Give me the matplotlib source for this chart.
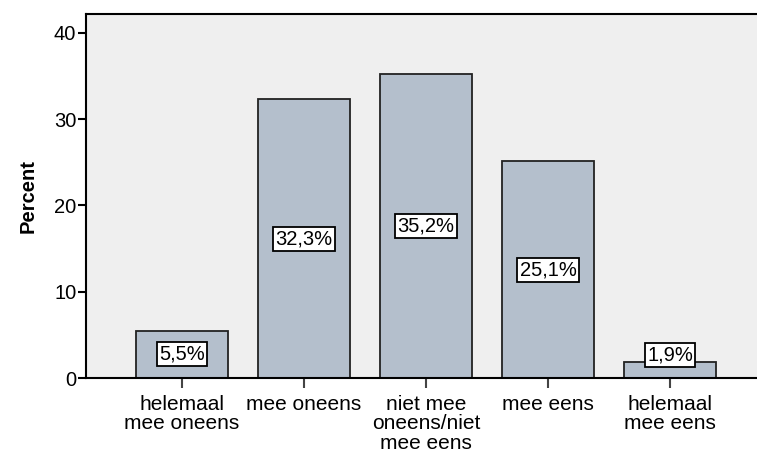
import matplotlib.pyplot as plt

plt.rcParams['font.family'] = ['Liberation Sans', 'DejaVu Sans']

# data
categories = ['helemaal\nmee oneens', 'mee oneens', 'niet mee\noneens/niet\nmee eens',
              'mee eens', 'helemaal\nmee eens']
percent = [5.5, 32.3, 35.2, 25.1, 1.9]
value_labels = ['5,5%', '32,3%', '35,2%', '25,1%', '1,9%']

fig = plt.figure(figsize=(7.57, 4.54), dpi=100)
ax = fig.add_axes([86 / 757, 76 / 454, 1 - 86 / 757, 364 / 454])
ax.set_facecolor('#efefef')

x = range(len(categories))
ax.bar(x, percent, width=0.754, color='#b4bfcc', edgecolor='#222222', linewidth=1.3, zorder=2)

for i, v in enumerate(percent):
    ax.text(i, max(v / 2, 2.7), value_labels[i], ha='center', va='center', fontsize=14.5,
            color='black', zorder=3,
            bbox=dict(boxstyle='square,pad=0.12', facecolor='white', edgecolor='black', linewidth=1.3))

ax.set_xlim(-0.787, 4.713)
ax.set_ylim(0, 42.2)
ax.set_yticks([0, 10, 20, 30, 40])
ax.set_xticks(list(x))
ax.set_xticklabels(categories, fontsize=15, linespacing=1.04)
ax.tick_params(axis='y', labelsize=14.5, length=6, width=1.5, pad=1)
ax.tick_params(axis='x', length=7, width=1.5, pad=5, color='#444444')
ax.set_ylabel('Percent', fontsize=14.5, fontweight='bold', labelpad=12)

for s in ['left', 'top', 'bottom']:
    ax.spines[s].set_linewidth(1.5)
ax.spines['right'].set_visible(False)

fig.savefig('out.png', dpi=100)
